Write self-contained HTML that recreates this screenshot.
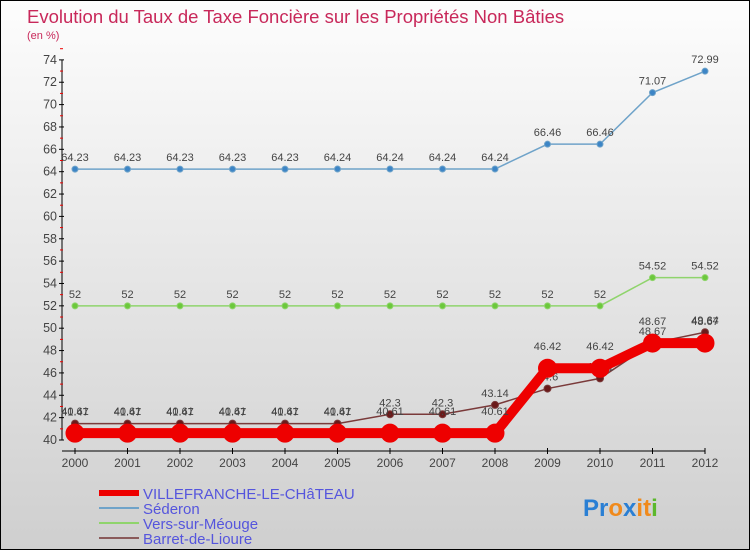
<!DOCTYPE html>
<html><head><meta charset="utf-8"><style>
html,body{margin:0;padding:0}
body{width:750px;height:550px;overflow:hidden}
#wrap{position:relative;width:748px;height:548px;border:1px solid #000;background:linear-gradient(#fdfdfd,#cfcfcf);font-family:"Liberation Sans",sans-serif}
svg text{font-family:"Liberation Sans",sans-serif}
</style></head><body>
<div id="wrap">
<svg id="c" width="748" height="548">
<text x="26" y="22" font-size="18.5" fill="#c8285a">Evolution du Taux de Taxe Foncière sur les Propriétés Non Bâties</text>
<text x="26" y="38" font-size="11" fill="#c8285a">(en %)</text>
</svg>
</div>
<script>
const years=[2000,2001,2002,2003,2004,2005,2006,2007,2008,2009,2010,2011,2012];
const villefranche=[40.61,40.61,40.61,40.61,40.61,40.61,40.61,40.61,40.61,46.42,46.42,48.67,48.67];
const sederon=[64.23,64.23,64.23,64.23,64.23,64.24,64.24,64.24,64.24,66.46,66.46,71.07,72.99];
const vers=[52,52,52,52,52,52,52,52,52,52,52,54.52,54.52];
const barret=[41.47,41.47,41.47,41.47,41.47,41.47,42.3,42.3,43.14,44.6,45.51,48.67,49.64];
const yTicks=[40,42,44,46,48,50,52,54,56,58,60,62,64,66,68,70,72,74];
const svg=document.getElementById('c');const NS='http://www.w3.org/2000/svg';
const X=i=>74+i*52.5, Y=v=>439-(v-40)*11.18;
function mk(t,a,p){const e=document.createElementNS(NS,t);for(const k in a)e.setAttribute(k,a[k]);(p||svg).appendChild(e);return e;}
const ax=mk('g',{});


mk('line',{x1:61,y1:Y(74),x2:61,y2:Y(40),stroke:'#000'},ax);
mk('line',{x1:61,y1:Y(40)+11,x2:X(12),y2:Y(40)+11,stroke:'#000'},ax);
yTicks.forEach(v=>{mk('line',{x1:58,x2:63,y1:Y(v),y2:Y(v),stroke:'#000'},ax);
mk('line',{x1:59,x2:62,y1:Y(v+1),y2:Y(v+1),stroke:'#e00'},ax);
const t=mk('text',{x:56,y:Y(v)+4,'text-anchor':'end','font-size':12.5,fill:'#444'},ax);t.textContent=v;

});
years.forEach((y,i)=>{mk('line',{x1:X(i),x2:X(i),y1:Y(40)+8,y2:Y(40)+14,stroke:'#000'},ax);
const t=mk('text',{x:X(i),y:Y(40)+27,'text-anchor':'middle','font-size':12,fill:'#444'},ax);t.textContent=y;

});
function series(name,data,col,w,r,fill,labels){
const g=mk('g',{});


mk('polyline',{points:data.map((v,i)=>X(i)+','+Y(v)).join(' '),fill:'none',stroke:col,'stroke-width':w},g);
data.forEach((v,i)=>{const c=mk('circle',{cx:X(i),cy:Y(v),r:r,fill:fill,stroke:col,'stroke-width':1},g);


if(labels){const t=mk('text',{x:X(i),y:Y(v)-8,'text-anchor':'middle','font-size':11,fill:'#444'},g);t.textContent=v;

}});}
series('sederon',sederon,'#6fa3c9',1.5,3,'#3d85c6',true);
series('vers-sur-meouge',vers,'#8fd46c',1.5,3,'#6cc83c',true);
series('barret-de-lioure',barret,'#7a3a3a',1.5,3.5,'#6b1a1a',true);
series('villefranche',villefranche,'#ee0000',10,9,'#ee0000',false);
villefranche.forEach((v,i)=>{const t=mk('text',{x:X(i),y:Y(v)-18,'text-anchor':'middle','font-size':11,fill:'#444'});t.textContent=v;

});
const leg=[['VILLEFRANCHE-LE-CHâTEAU','#ee0000',6],['Séderon','#6fa3c9',2],['Vers-sur-Méouge','#8fd46c',2],['Barret-de-Lioure','#8a5a5a',2]];
leg.forEach((l,i)=>{const y=492+i*15;const g=mk('g',{});


mk('line',{x1:98,x2:138,y1:y,y2:y,stroke:l[1],'stroke-width':l[2]},g);
const t=mk('text',{x:142,y:y+6,'font-size':15,fill:'#5555dd'},g);t.textContent=l[0];});
const p=mk('text',{x:582,y:515,'font-size':24,'font-weight':'bold'});


[['P','#2a7fd4'],['r','#2a7fd4'],['o','#f08a1c'],['x','#2a7fd4'],['i','#f08a1c'],['t','#f08a1c'],['i','#5cb82c']].forEach(c=>{const s=mk('tspan',{fill:c[1]},p);s.textContent=c[0];});
</script>
</body></html>
